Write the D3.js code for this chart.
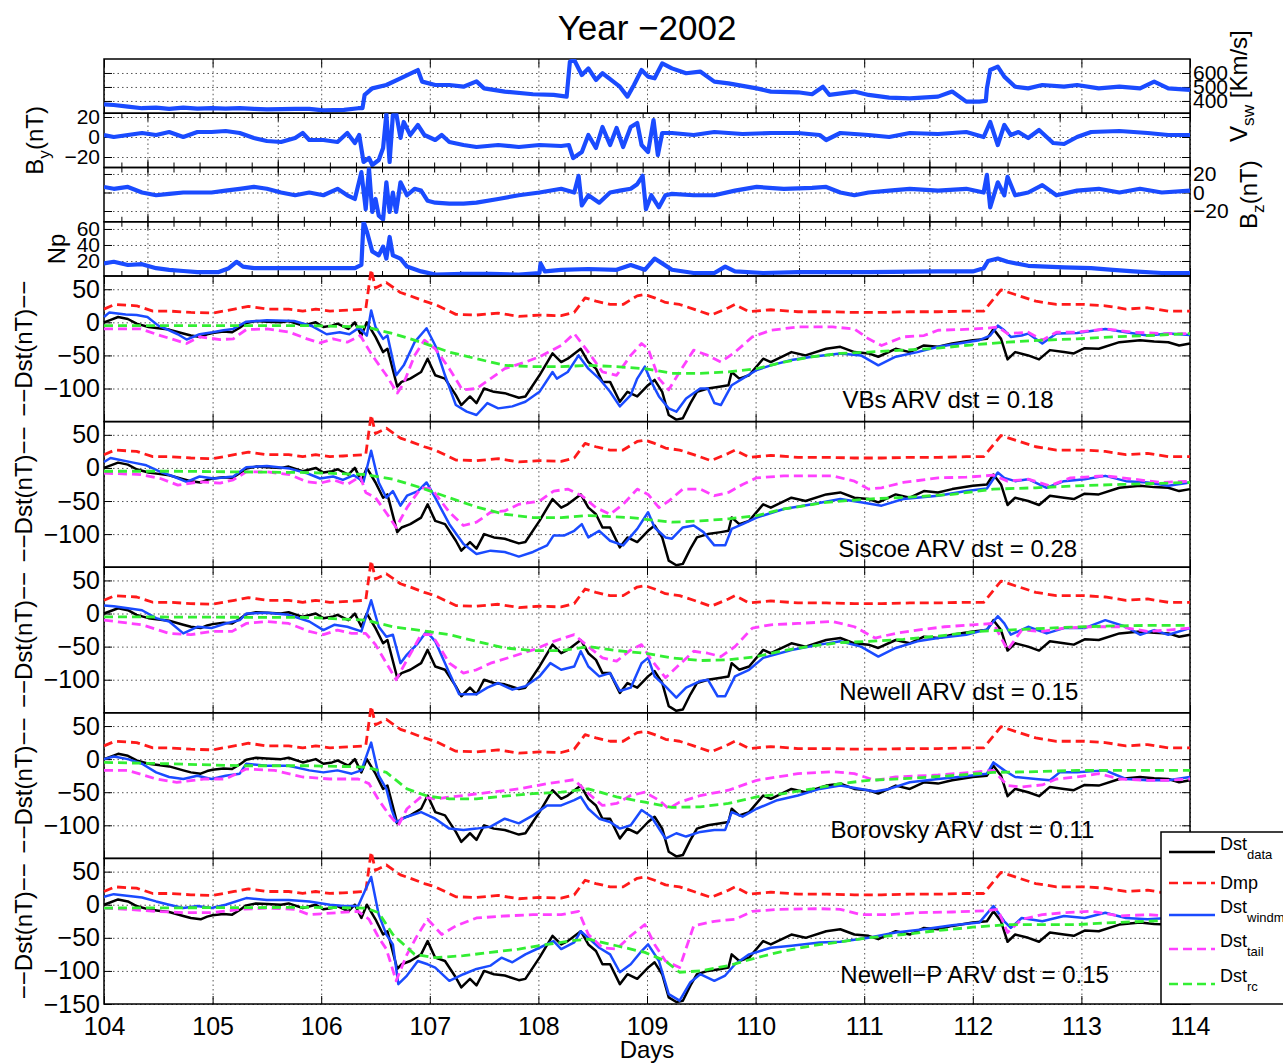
<!DOCTYPE html>
<html>
<head>
<meta charset="utf-8">
<script src="https://cdn.jsdelivr.net/npm/d3@7"></script>
<style>
	body { margin: 0; background: #fff; }
	svg { font-family: "Liberation Sans", Arial, Helvetica, sans-serif; }
	.grid line { stroke: #555; stroke-width: 1; stroke-dasharray: 1.5,3; }
	.grid path, .tk path { display: none; }
	.tk line { stroke: #000; stroke-width: 1; }
	.tk text { fill: #000; }
</style>
</head>
<body>
<div class="container"></div>
<script>
var	WIDTH = 1283,
	HEIGHT = 1063,
	LEFT = 104,
	RIGHT = 1190,
	SW_TOP = 59,
	SW_H = 54.25,
	DST_TOP = 276,
	DST_H = 145.6,
	xScale;

// axis ticks
var dayTicks = [104, 105, 106, 107, 108, 109, 110, 111, 112, 113, 114];
var swGridTicks = [104.4, 105.6, 106.8, 108.0, 109.2, 110.4, 111.6, 112.8, 114.0];
var vswTicks = [400, 500, 600];
var byTicks = [-20, 0, 20];
var bzTicks = [-20, 0, 20];
var npTicks = [20, 40, 60];
var dstTicks = [-100, -50, 0, 50];
var dstTicksLast = [-150, -100, -50, 0, 50];

// solar wind  [day, value]
var vsw = [[104.00,376],[104.09,371],[104.22,360],[104.35,348],[104.48,352],[104.60,343],[104.73,352],[104.86,345],[104.99,348],[105.12,345],[105.25,348],[105.38,343],[105.50,340],[105.63,342],[105.76,343],[105.89,343],[106.02,333],[106.21,336],[106.34,348],[106.38,348],[106.40,443],[106.47,490],[106.60,514],[106.73,562],[106.86,610],[106.89,621],[106.93,538],[107.05,514],[107.18,514],[107.31,502],[107.43,540],[107.50,490],[107.69,467],[107.95,448],[108.14,443],[108.26,431],[108.29,681],[108.33,693],[108.40,586],[108.46,633],[108.53,550],[108.59,598],[108.69,538],[108.75,502],[108.82,431],[108.88,514],[108.95,621],[109.01,574],[109.07,562],[109.14,669],[109.23,633],[109.36,598],[109.49,610],[109.62,538],[109.75,526],[110.01,490],[110.14,467],[110.39,462],[110.52,448],[110.62,502],[110.68,443],[110.91,467],[111.04,443],[111.23,424],[111.42,419],[111.68,431],[111.81,467],[111.94,395],[112.06,395],[112.12,400],[112.13,490],[112.16,621],[112.23,645],[112.29,574],[112.39,502],[112.51,490],[112.64,514],[112.84,502],[112.96,514],[113.16,490],[113.35,502],[113.54,490],[113.67,538],[113.80,490],[114.00,479]];
var by = [[104.00,2],[104.09,0],[104.22,2],[104.35,4],[104.48,2],[104.60,5],[104.73,0],[104.86,5],[104.99,5],[105.12,6],[105.25,4],[105.38,-1],[105.50,-4],[105.63,-5],[105.76,-1],[105.83,4],[105.89,-3],[106.02,-3],[106.15,-5],[106.24,4],[106.31,-6],[106.35,2],[106.39,-25],[106.44,-21],[106.47,-28],[106.53,-23],[106.57,-11],[106.60,23],[106.63,-25],[106.66,22],[106.69,24],[106.73,-1],[106.76,15],[106.82,2],[106.89,12],[106.95,2],[107.05,-3],[107.11,2],[107.18,-5],[107.31,-8],[107.43,-10],[107.63,-8],[107.82,-10],[108.01,-8],[108.21,-9],[108.28,-8],[108.32,-21],[108.40,-15],[108.46,2],[108.53,-11],[108.59,10],[108.66,-8],[108.72,9],[108.78,-10],[108.85,10],[108.91,14],[108.95,-8],[109.01,-15],[109.06,17],[109.10,-18],[109.14,4],[109.23,4],[109.43,2],[109.62,5],[109.88,3],[110.14,4],[110.39,4],[110.59,2],[110.65,-3],[110.78,4],[111.04,2],[111.23,0],[111.42,4],[111.68,3],[111.94,5],[112.10,0],[112.16,15],[112.23,-8],[112.29,12],[112.35,2],[112.42,5],[112.51,-1],[112.61,7],[112.74,-6],[112.84,-7],[112.96,0],[113.09,5],[113.35,6],[113.61,4],[113.80,2],[114.00,2]];
var bz = [[104.00,6],[104.09,4],[104.22,6],[104.35,0],[104.48,-3],[104.60,-1.5],[104.73,0],[104.86,0],[104.99,0],[105.12,2],[105.25,4],[105.38,6],[105.50,4],[105.63,0],[105.76,-3],[105.89,0],[106.02,-3],[106.15,4],[106.24,-3],[106.31,-7],[106.37,22],[106.41,-18],[106.44,26],[106.47,-21],[106.50,-7],[106.53,-25],[106.57,-29],[106.60,11],[106.63,-21],[106.66,0],[106.69,-21],[106.73,11],[106.79,-3],[106.86,4],[106.92,2],[106.98,-9],[107.05,-11],[107.18,-12],[107.31,-12],[107.43,-11],[107.63,-7],[107.82,-3],[108.01,0],[108.21,4],[108.33,0],[108.37,18],[108.40,-14],[108.46,-3],[108.56,-11],[108.66,0],[108.75,2],[108.85,4],[108.91,9],[108.96,18],[108.99,-18],[109.04,-3],[109.11,-16],[109.17,-3],[109.23,-1.5],[109.43,-3],[109.62,-3],[109.81,2],[110.01,6],[110.26,4],[110.52,5],[110.65,6],[110.78,0],[110.91,-3],[111.04,0],[111.23,2],[111.42,4],[111.68,2],[111.94,4],[112.10,0],[112.13,19],[112.16,-16],[112.23,11],[112.29,-3],[112.32,17],[112.39,-3],[112.51,0],[112.64,8],[112.77,-3],[112.96,2],[113.16,4],[113.35,0],[113.54,4],[113.74,0],[114.00,2]];
var np = [[104.00,17],[104.09,19],[104.22,15],[104.35,16],[104.48,11],[104.60,9],[104.73,7.5],[104.86,6],[105.05,6],[105.15,11],[105.22,19],[105.28,13],[105.38,11],[105.63,11],[105.89,11],[106.15,11],[106.31,11],[106.37,15],[106.39,69],[106.42,57],[106.47,32],[106.53,27],[106.57,38],[106.60,23],[106.63,50],[106.66,27],[106.73,23],[106.79,13],[106.92,7],[107.05,3],[107.31,4],[107.56,4],[107.82,3],[108.01,5],[108.02,17],[108.06,7],[108.21,9],[108.46,10],[108.72,9],[108.85,15],[108.98,9],[109.07,23],[109.14,17],[109.23,9],[109.43,5],[109.62,5],[109.72,13],[109.81,7],[110.07,5],[110.39,6],[111.04,6],[111.68,7],[112.00,7],[112.10,11],[112.14,20],[112.23,23],[112.32,19],[112.51,14],[112.84,12],[113.09,11],[113.29,9],[113.48,7],[113.74,5],[114.00,5]];

// Dst (nT)  [day, value]
var dstData = [[104.00,0],[104.05,3],[104.13,8],[104.22,5],[104.30,-2],[104.41,-7],[104.50,-9],[104.60,-11],[104.73,-17],[104.80,-20],[104.89,-22],[104.95,-18],[105.00,-16],[105.10,-14],[105.18,-15],[105.25,-8],[105.31,-1],[105.40,2],[105.50,1],[105.63,0],[105.70,2],[105.83,-5],[105.95,0],[106.02,-7],[106.10,-5],[106.15,-2],[106.25,-10],[106.31,0],[106.37,-20],[106.42,0],[106.50,-22],[106.57,-45],[106.61,-40],[106.70,-97],[106.74,-90],[106.82,-85],[106.92,-75],[106.98,-55],[107.05,-80],[107.14,-85],[107.24,-110],[107.29,-125],[107.37,-112],[107.43,-122],[107.50,-100],[107.59,-105],[107.69,-107],[107.82,-114],[107.88,-112],[108.01,-80],[108.13,-47],[108.21,-60],[108.27,-55],[108.39,-40],[108.46,-60],[108.53,-70],[108.59,-90],[108.66,-90],[108.75,-120],[108.82,-105],[108.91,-112],[109.01,-95],[109.07,-87],[109.14,-105],[109.20,-140],[109.27,-147],[109.33,-145],[109.40,-122],[109.46,-105],[109.56,-100],[109.68,-97],[109.75,-95],[109.78,-75],[109.85,-85],[109.94,-80],[110.07,-55],[110.14,-60],[110.33,-45],[110.46,-50],[110.65,-40],[110.78,-37],[110.91,-45],[111.04,-47],[111.13,-52],[111.29,-40],[111.42,-45],[111.55,-35],[111.68,-37],[111.81,-32],[112.00,-27],[112.13,-25],[112.19,-10],[112.26,-25],[112.32,-56],[112.39,-45],[112.51,-50],[112.61,-56],[112.71,-42],[112.84,-45],[112.93,-47],[113.03,-39],[113.16,-40],[113.35,-30],[113.54,-27],[113.67,-29],[113.80,-30],[113.90,-35],[114.00,-32]];
var dmp = [[104.00,20],[104.10,27],[104.30,25],[104.45,17],[104.60,17],[104.80,15],[105.00,14],[105.20,20],[105.33,24],[105.50,20],[105.70,20],[105.83,17],[105.95,20],[106.08,17],[106.20,18],[106.41,20],[106.46,80],[106.50,52],[106.60,60],[106.73,45],[106.82,40],[106.95,32],[107.05,27],[107.24,12],[107.43,11],[107.63,14],[107.82,9],[108.01,11],[108.21,10],[108.33,15],[108.43,37],[108.53,32],[108.66,27],[108.78,27],[108.91,40],[108.98,42],[109.07,37],[109.17,30],[109.30,27],[109.43,20],[109.59,11],[109.75,22],[109.81,27],[109.94,16],[110.14,19],[110.39,16],[110.65,16],[110.91,15],[111.16,15],[111.42,16],[111.68,16],[111.94,17],[112.10,17],[112.19,35],[112.26,49],[112.39,42],[112.58,32],[112.77,27],[113.03,27],[113.22,25],[113.41,20],[113.61,22],[113.80,17],[114.00,17]];

var windmiVBs = [[104.00,8],[104.05,15],[104.20,12],[104.30,11],[104.40,8],[104.50,-5],[104.60,-12],[104.68,-18],[104.76,-26],[104.88,-18],[105.00,-15],[105.10,-12],[105.19,-10],[105.31,1],[105.50,3],[105.75,2],[105.92,-6],[106.05,-18],[106.17,-15],[106.26,-18],[106.35,-8],[106.42,-20],[106.46,18],[106.50,-7],[106.57,-25],[106.61,-20],[106.69,-80],[106.76,-65],[106.86,-30],[106.97,-9],[107.05,-35],[107.14,-80],[107.24,-125],[107.34,-135],[107.43,-140],[107.53,-122],[107.63,-130],[107.76,-127],[107.88,-120],[108.01,-105],[108.13,-75],[108.17,-85],[108.27,-75],[108.37,-50],[108.46,-70],[108.56,-85],[108.66,-105],[108.75,-127],[108.85,-110],[108.91,-85],[108.98,-67],[109.04,-90],[109.11,-112],[109.20,-130],[109.27,-135],[109.36,-115],[109.49,-100],[109.56,-100],[109.62,-122],[109.68,-125],[109.78,-95],[109.88,-85],[110.01,-72],[110.14,-65],[110.33,-57],[110.52,-52],[110.78,-47],[110.97,-50],[111.13,-65],[111.29,-52],[111.49,-45],[111.68,-37],[111.87,-32],[112.06,-27],[112.16,-20],[112.23,-5],[112.29,-12],[112.35,-22],[112.45,-20],[112.51,-17],[112.64,-32],[112.77,-17],[112.96,-16],[113.22,-10],[113.41,-15],[113.61,-20],[113.80,-17],[114.00,-19]];
var windmiSiscoe = [[104.00,9],[104.06,15],[104.27,8],[104.39,4],[104.52,-6],[104.64,-13],[104.76,-21],[104.88,-13],[105.01,-16],[105.19,-13],[105.31,1],[105.50,3],[105.71,-1],[105.87,-8],[105.99,-16],[106.11,-13],[106.20,-18],[106.30,-11],[106.39,-21],[106.46,26],[106.53,-22],[106.60,-45],[106.66,-35],[106.73,-57],[106.79,-42],[106.89,-35],[106.97,-22],[107.05,-45],[107.18,-85],[107.31,-115],[107.43,-130],[107.56,-125],[107.69,-127],[107.82,-134],[107.95,-127],[108.08,-117],[108.14,-102],[108.24,-102],[108.33,-95],[108.40,-85],[108.46,-105],[108.56,-95],[108.66,-110],[108.78,-117],[108.91,-92],[109.01,-67],[109.07,-90],[109.17,-105],[109.23,-107],[109.33,-90],[109.43,-87],[109.52,-97],[109.62,-117],[109.72,-117],[109.78,-92],[109.88,-85],[110.01,-75],[110.26,-62],[110.52,-55],[110.78,-47],[110.97,-52],[111.16,-57],[111.36,-47],[111.68,-42],[111.94,-35],[112.13,-31],[112.23,-7],[112.29,-15],[112.39,-20],[112.51,-17],[112.68,-30],[112.84,-20],[113.03,-17],[113.22,-12],[113.41,-20],[113.61,-22],[113.80,-27],[114.00,-22]];
var windmiNewell = [[104.00,12],[104.09,11],[104.35,5],[104.48,-7],[104.60,-12],[104.73,-30],[104.86,-20],[104.99,-22],[105.12,-15],[105.25,-10],[105.31,0],[105.50,1],[105.70,-2],[105.89,-12],[106.02,-25],[106.12,-17],[106.24,-20],[106.37,-27],[106.46,20],[106.53,-20],[106.60,-35],[106.66,-32],[106.73,-75],[106.79,-62],[106.89,-45],[106.97,-27],[107.05,-42],[107.18,-90],[107.27,-122],[107.43,-122],[107.53,-112],[107.63,-105],[107.76,-115],[107.88,-110],[108.01,-95],[108.11,-75],[108.21,-85],[108.33,-80],[108.39,-57],[108.46,-80],[108.56,-95],[108.66,-90],[108.75,-117],[108.85,-112],[108.95,-75],[109.01,-67],[109.07,-95],[109.17,-110],[109.27,-127],[109.36,-112],[109.49,-102],[109.56,-100],[109.65,-125],[109.72,-125],[109.81,-95],[109.94,-85],[110.07,-67],[110.33,-55],[110.59,-47],[110.78,-42],[110.97,-50],[111.13,-65],[111.29,-52],[111.49,-42],[111.68,-37],[111.94,-32],[112.13,-24],[112.23,-4],[112.29,-15],[112.35,-32],[112.51,-20],[112.68,-30],[112.84,-22],[113.03,-22],[113.22,-10],[113.41,-20],[113.54,-32],[113.67,-25],[113.80,-32],[114.00,-22]];
var windmiBorovsky = [[104.00,0],[104.09,4],[104.22,0],[104.35,-7],[104.48,-20],[104.60,-27],[104.73,-30],[104.86,-25],[104.99,-30],[105.12,-25],[105.25,-22],[105.31,-7],[105.50,-10],[105.70,-10],[105.89,-17],[106.02,-20],[106.15,-17],[106.28,-22],[106.37,-17],[106.46,25],[106.53,-25],[106.60,-45],[106.65,-77],[106.69,-95],[106.79,-87],[106.92,-80],[107.05,-90],[107.18,-105],[107.31,-107],[107.43,-105],[107.56,-102],[107.69,-90],[107.82,-97],[107.95,-85],[108.08,-70],[108.21,-70],[108.33,-62],[108.39,-57],[108.46,-75],[108.56,-90],[108.66,-95],[108.75,-105],[108.85,-100],[108.95,-77],[109.04,-87],[109.17,-120],[109.27,-112],[109.36,-117],[109.49,-110],[109.62,-107],[109.72,-107],[109.78,-80],[109.88,-87],[110.01,-75],[110.20,-62],[110.39,-55],[110.59,-45],[110.78,-40],[110.97,-45],[111.10,-49],[111.23,-45],[111.42,-35],[111.68,-30],[111.87,-27],[112.13,-22],[112.19,-5],[112.29,-17],[112.39,-27],[112.58,-30],[112.71,-32],[112.80,-20],[112.96,-20],[113.22,-17],[113.41,-30],[113.61,-32],[113.80,-32],[114.00,-27]];
var windmiNewellP = [[104.00,12],[104.09,16],[104.35,11],[104.48,5],[104.60,0],[104.73,-5],[104.86,-2],[104.99,-5],[105.12,0],[105.31,10],[105.50,7],[105.70,7],[105.89,5],[106.08,0],[106.21,-2],[106.34,-2],[106.46,42],[106.53,-15],[106.60,-45],[106.66,-60],[106.71,-120],[106.79,-107],[106.89,-85],[106.98,-90],[107.05,-95],[107.18,-115],[107.31,-105],[107.43,-97],[107.56,-92],[107.66,-80],[107.76,-87],[107.88,-75],[108.01,-65],[108.14,-55],[108.21,-67],[108.33,-57],[108.39,-40],[108.46,-50],[108.56,-65],[108.66,-75],[108.75,-102],[108.85,-90],[108.95,-70],[109.01,-60],[109.11,-85],[109.20,-135],[109.30,-145],[109.40,-117],[109.49,-105],[109.62,-115],[109.72,-107],[109.81,-90],[109.94,-75],[110.14,-65],[110.33,-62],[110.59,-57],[110.78,-56],[111.04,-50],[111.29,-42],[111.55,-37],[111.81,-31],[112.06,-27],[112.19,-2],[112.29,-25],[112.35,-35],[112.45,-20],[112.64,-25],[112.84,-17],[113.03,-20],[113.22,-12],[113.41,-20],[113.61,-22],[113.80,-20],[114.00,-20]];

var tailVBs = [[104.00,-10],[104.34,-10],[104.52,-20],[104.76,-32],[104.88,-22],[105.07,-26],[105.19,-25],[105.31,-11],[105.50,-10],[105.71,-15],[105.87,-25],[105.99,-31],[106.11,-25],[106.24,-30],[106.36,-20],[106.47,-50],[106.60,-80],[106.70,-107],[106.76,-92],[106.86,-50],[106.95,-27],[107.05,-40],[107.18,-70],[107.30,-102],[107.43,-100],[107.56,-85],[107.69,-70],[107.88,-60],[108.01,-52],[108.21,-35],[108.33,-17],[108.46,-45],[108.59,-75],[108.72,-80],[108.85,-50],[108.95,-32],[109.01,-40],[109.11,-85],[109.20,-102],[109.30,-75],[109.43,-42],[109.56,-50],[109.68,-60],[109.81,-45],[109.97,-22],[110.14,-12],[110.39,-7],[110.71,-7],[110.91,-10],[111.04,-25],[111.16,-35],[111.36,-22],[111.55,-20],[111.68,-12],[111.87,-11],[112.13,-9],[112.23,-7],[112.32,-17],[112.51,-15],[112.64,-27],[112.77,-15],[112.96,-15],[113.22,-10],[113.48,-15],[113.74,-17],[114.00,-17]];
var tailSiscoe = [[104.00,-8],[104.34,-10],[104.52,-16],[104.68,-26],[104.88,-21],[105.07,-23],[105.19,-18],[105.31,-6],[105.50,-6],[105.71,-10],[105.87,-21],[105.99,-23],[106.11,-18],[106.24,-25],[106.36,-13],[106.41,-37],[106.50,-45],[106.63,-75],[106.69,-90],[106.79,-60],[106.92,-30],[107.02,-32],[107.18,-67],[107.31,-87],[107.43,-82],[107.56,-67],[107.69,-65],[107.82,-55],[108.01,-50],[108.14,-35],[108.27,-32],[108.40,-42],[108.53,-60],[108.66,-70],[108.78,-55],[108.91,-32],[109.01,-40],[109.11,-60],[109.20,-50],[109.33,-32],[109.49,-32],[109.62,-42],[109.75,-37],[109.88,-25],[110.01,-15],[110.26,-12],[110.71,-12],[110.91,-20],[111.04,-32],[111.16,-30],[111.36,-22],[111.68,-15],[111.94,-14],[112.19,-11],[112.32,-20],[112.51,-17],[112.71,-27],[112.90,-15],[113.22,-12],[113.48,-17],[113.74,-22],[114.00,-20]];
var tailNewell = [[104.00,-10],[104.35,-17],[104.60,-30],[104.80,-32],[104.99,-27],[105.18,-27],[105.31,-15],[105.50,-12],[105.70,-15],[105.89,-27],[106.02,-32],[106.15,-25],[106.28,-30],[106.41,-30],[106.50,-47],[106.60,-75],[106.69,-100],[106.79,-70],[106.92,-32],[107.02,-32],[107.18,-75],[107.31,-90],[107.43,-85],[107.56,-75],[107.76,-65],[107.95,-55],[108.14,-42],[108.33,-32],[108.46,-50],[108.59,-67],[108.72,-72],[108.85,-55],[108.95,-47],[109.04,-70],[109.17,-97],[109.30,-77],[109.43,-57],[109.56,-60],[109.68,-65],[109.81,-50],[109.97,-22],[110.14,-17],[110.39,-15],[110.71,-12],[110.91,-20],[111.10,-37],[111.29,-30],[111.49,-25],[111.74,-20],[112.00,-17],[112.19,-15],[112.32,-55],[112.45,-25],[112.64,-27],[112.84,-22],[113.09,-20],[113.35,-20],[113.61,-27],[113.80,-25],[114.00,-22]];
var tailBorovsky = [[104.00,-17],[104.22,-17],[104.48,-30],[104.67,-35],[104.93,-30],[105.12,-30],[105.31,-15],[105.57,-17],[105.83,-27],[106.08,-30],[106.34,-30],[106.44,-37],[106.53,-62],[106.63,-85],[106.71,-100],[106.79,-75],[106.92,-57],[107.05,-60],[107.31,-55],[107.56,-50],[107.82,-45],[108.08,-37],[108.33,-31],[108.46,-52],[108.59,-70],[108.72,-67],[108.85,-55],[108.98,-50],[109.11,-62],[109.20,-75],[109.30,-65],[109.49,-55],[109.75,-47],[110.01,-32],[110.39,-22],[110.71,-19],[110.91,-22],[111.10,-32],[111.29,-27],[111.68,-24],[112.00,-20],[112.19,-17],[112.32,-40],[112.45,-42],[112.64,-39],[112.77,-30],[112.96,-27],[113.16,-22],[113.35,-30],[113.61,-32],[113.80,-32],[114.00,-30]];
var tailNewellP = [[104.00,-5],[104.22,-7],[104.48,-10],[104.73,-12],[104.99,-12],[105.25,-7],[105.50,-5],[105.76,-7],[105.89,-15],[106.15,-12],[106.34,-10],[106.44,-22],[106.53,-50],[106.60,-67],[106.69,-115],[106.79,-75],[106.89,-45],[106.98,-22],[107.11,-45],[107.24,-32],[107.43,-20],[107.69,-17],[107.95,-15],[108.21,-15],[108.37,-10],[108.46,-45],[108.59,-65],[108.72,-67],[108.85,-47],[108.98,-30],[109.07,-60],[109.17,-85],[109.30,-95],[109.43,-32],[109.62,-25],[109.81,-22],[109.97,-10],[110.20,-7],[110.59,-6],[110.78,-7],[110.97,-15],[111.23,-15],[111.49,-12],[111.81,-11],[112.13,-9],[112.23,-7],[112.32,-42],[112.45,-22],[112.64,-15],[112.84,-12],[113.09,-10],[113.35,-17],[113.61,-15],[113.80,-17],[114.00,-17]];

var rcVBs = [[104.00,-5],[104.64,-5],[105.25,-5],[105.89,-5],[106.41,-7],[106.66,-17],[106.92,-30],[107.18,-45],[107.43,-55],[107.69,-65],[107.95,-67],[108.21,-67],[108.46,-65],[108.72,-67],[108.98,-70],[109.23,-77],[109.49,-77],[109.75,-75],[110.01,-70],[110.26,-60],[110.52,-52],[110.78,-47],[111.04,-45],[111.36,-42],[111.68,-39],[112.00,-34],[112.32,-30],[112.64,-27],[112.96,-25],[113.29,-22],[113.61,-20],[114.00,-17]];
var rcSiscoe = [[104.00,-5],[104.64,-5],[105.25,-6],[105.89,-7],[106.41,-10],[106.66,-17],[106.92,-30],[107.18,-45],[107.43,-59],[107.69,-70],[107.95,-75],[108.21,-75],[108.46,-72],[108.85,-75],[109.23,-82],[109.49,-80],[109.75,-77],[110.01,-72],[110.26,-62],[110.65,-52],[111.04,-47],[111.42,-44],[111.81,-40],[112.19,-32],[112.58,-30],[112.96,-27],[113.35,-25],[114.00,-22]];
var rcNewell = [[104.00,-5],[105.89,-6],[106.41,-10],[106.66,-20],[106.98,-27],[107.18,-32],[107.43,-42],[107.69,-52],[107.95,-56],[108.21,-56],[108.46,-50],[108.72,-56],[108.98,-60],[109.23,-67],[109.49,-71],[109.75,-70],[110.01,-65],[110.26,-56],[110.52,-49],[110.78,-44],[111.04,-42],[111.36,-39],[111.68,-34],[112.06,-27],[112.45,-24],[112.84,-21],[113.22,-19],[113.61,-18],[114.00,-18]];
var rcBorovsky = [[104.00,-5],[104.60,-7],[105.25,-10],[105.89,-10],[106.41,-12],[106.60,-20],[106.79,-45],[106.98,-56],[107.18,-60],[107.43,-60],[107.69,-56],[107.95,-52],[108.21,-50],[108.46,-45],[108.72,-57],[108.98,-65],[109.23,-73],[109.49,-72],[109.75,-67],[110.01,-57],[110.26,-52],[110.52,-45],[110.78,-37],[111.04,-32],[111.42,-29],[111.81,-25],[112.19,-20],[112.58,-19],[112.96,-17],[114.00,-17]];
var rcNewellP = [[104.00,-5],[105.89,-4],[106.41,-5],[106.53,-12],[106.66,-45],[106.86,-75],[107.05,-80],[107.31,-77],[107.56,-72],[107.82,-67],[108.08,-60],[108.33,-54],[108.46,-52],[108.72,-62],[108.98,-72],[109.17,-85],[109.30,-102],[109.49,-100],[109.75,-92],[110.01,-80],[110.26,-70],[110.52,-62],[110.78,-56],[111.04,-50],[111.36,-45],[111.68,-39],[112.00,-34],[112.32,-30],[112.96,-30],[113.29,-27],[113.61,-25],[114.00,-22]];

var modelNames = ['VBs', 'Siscoe', 'Newell', 'Borovsky', 'Newell\u2212P'];
var arvValues = [0.18, 0.28, 0.15, 0.11, 0.15];
// where each ARV note sits, in axis units
var noteDay = [110.80, 110.76, 110.77, 110.69, 110.78];
var noteDst = [-129, -134, -131, -119, -118];

var COLORS = { data: '#000000', dmp: '#ff1a1a', windmi: '#1a4bff', tail: '#ff40ff', rc: '#33ee33' };
var DASH = '9,5';

function translate(x, y) {
	return 'translate(' + x + ',' + y + ')';
}

function styleTicks(sel, size) {
	sel.attr('font-family', null).attr('font-size', size);
}

function drawFrame(g, h, y, o) {
	g.append('g').attr('class', 'grid')
		.attr('transform', translate(0, h))
		.call(d3.axisBottom(xScale).tickValues(o.xMajor).tickSize(-h).tickFormat(''));
	g.append('g').attr('class', 'grid')
		.attr('transform', translate(LEFT, 0))
		.call(d3.axisLeft(y).tickValues(o.yTicks).tickSize(-(RIGHT - LEFT)).tickFormat(''));

	g.append('g').attr('class', 'tk')
		.attr('transform', translate(0, h))
		.call(d3.axisBottom(xScale).tickValues(o.xMajor).tickSize(-8).tickPadding(13)
			.tickFormat(o.xLabels ? d3.format('d') : ''))
		.call(styleTicks, 25);
	g.append('g').attr('class', 'tk')
		.call(d3.axisTop(xScale).tickValues(o.xMajor).tickSize(-8).tickFormat(''));
	if (o.xMinor) {
		g.append('g').attr('class', 'tk')
			.attr('transform', translate(0, h))
			.call(d3.axisBottom(xScale).tickValues(o.xMinor).tickSize(-5).tickFormat(''));
		g.append('g').attr('class', 'tk')
			.call(d3.axisTop(xScale).tickValues(o.xMinor).tickSize(-5).tickFormat(''));
	}

	var fmt = d3.format('d');
	g.append('g').attr('class', 'tk')
		.attr('transform', translate(LEFT, 0))
		.call(d3.axisLeft(y).tickValues(o.yTicks).tickSize(-8).tickPadding(4)
			.tickFormat(o.side == 'left' ? fmt : ''))
		.call(styleTicks, o.fontSize);
	g.append('g').attr('class', 'tk')
		.attr('transform', translate(RIGHT, 0))
		.call(d3.axisRight(y).tickValues(o.yTicks).tickSize(-8).tickPadding(3)
			.tickFormat(o.side == 'right' ? fmt : ''))
		.call(styleTicks, o.fontSize);

	g.append('rect')
		.attr('x', LEFT).attr('y', 0)
		.attr('width', RIGHT - LEFT).attr('height', h)
		.attr('fill', 'none').attr('stroke', '#000').attr('stroke-width', 1.5);
}

function sideLabel(svg, x, cy, parts, size) {
	var t = svg.append('text')
		.attr('transform', translate(x, cy) + ' rotate(-90)')
		.attr('text-anchor', 'middle')
		.attr('font-size', size);
	var shift = 0;
	parts.forEach(function(p) {
		var dy = p.sub ? 7 - shift : -shift;
		shift = p.sub ? 7 : 0;
		t.append('tspan').attr('dy', dy).attr('font-size', p.sub ? size * 0.72 : size).text(p.t);
	});
}

function drawSolarWind(svg) {
	var minor = d3.range(104.16, 114.001, 0.24);
	var panels = [
		{ data: vsw, domain: [312, 700], ticks: vswTicks, side: 'right', xMajor: dayTicks, xMinor: null },
		{ data: by, domain: [-30.5, 23.75], ticks: byTicks, side: 'left', xMajor: swGridTicks, xMinor: minor },
		{ data: bz, domain: [-31.6, 27], ticks: bzTicks, side: 'right', xMajor: swGridTicks, xMinor: minor },
		{ data: np, domain: [1.25, 69], ticks: npTicks, side: 'left', xMajor: swGridTicks, xMinor: minor }
	];

	panels.forEach(function(p, i) {
		var top = SW_TOP + i * SW_H;
		var g = svg.append('g').attr('transform', translate(0, top));
		var y = d3.scaleLinear().domain(p.domain).range([SW_H, 0]);

		g.append('clipPath').attr('id', 'sw' + i)
			.append('rect').attr('x', LEFT).attr('y', 0).attr('width', RIGHT - LEFT).attr('height', SW_H);

		drawFrame(g, SW_H, y, { xMajor: p.xMajor, xMinor: p.xMinor, yTicks: p.ticks, side: p.side, fontSize: 21 });

		var line = d3.line()
			.x(function(d) {return xScale(d[0])})
			.y(function(d) {return y(d[1])});

		g.append('path')
			.datum(p.data)
			.attr('clip-path', 'url(#sw' + i + ')')
			.attr('d', line)
			.attr('fill', 'none')
			.attr('stroke', COLORS.windmi)
			.attr('stroke-width', 4.2)
			.attr('stroke-linejoin', 'round');
	});

	sideLabel(svg, 1247, SW_TOP + SW_H * 0.5, [{t: 'V'}, {t: 'sw', sub: true}, {t: ' [Km/s]'}], 24);
	sideLabel(svg, 43, SW_TOP + SW_H * 1.5, [{t: 'B'}, {t: 'y', sub: true}, {t: '(nT)'}], 24);
	sideLabel(svg, 1257, SW_TOP + SW_H * 2.5, [{t: 'B'}, {t: 'z', sub: true}, {t: '(nT)'}], 24);
	sideLabel(svg, 65, SW_TOP + SW_H * 3.5, [{t: 'Np'}], 24);
}

function drawDst(svg) {
	var windmi = [windmiVBs, windmiSiscoe, windmiNewell, windmiBorovsky, windmiNewellP];
	var tail = [tailVBs, tailSiscoe, tailNewell, tailBorovsky, tailNewellP];
	var rc = [rcVBs, rcSiscoe, rcNewell, rcBorovsky, rcNewellP];

	modelNames.forEach(function(name, i) {
		var top = DST_TOP + i * DST_H;
		var last = i == modelNames.length - 1;
		var g = svg.append('g').attr('transform', translate(0, top));
		var y = d3.scaleLinear().domain([-150, 70]).range([DST_H, 0]);

		drawFrame(g, DST_H, y, {
			xMajor: dayTicks, xMinor: null, xLabels: last,
			yTicks: last ? dstTicksLast : dstTicks, side: 'left', fontSize: 25
		});

		var line = d3.line()
			.x(function(d) {return xScale(d[0])})
			.y(function(d) {return y(d[1])});

		var series = [
			{ data: dstData, color: COLORS.data, dash: null },
			{ data: dmp, color: COLORS.dmp, dash: DASH },
			{ data: windmi[i], color: COLORS.windmi, dash: null },
			{ data: tail[i], color: COLORS.tail, dash: DASH },
			{ data: rc[i], color: COLORS.rc, dash: DASH }
		];
		series.forEach(function(s) {
			g.append('path')
				.datum(s.data)
				.attr('d', line)
				.attr('fill', 'none')
				.attr('stroke', s.color)
				.attr('stroke-width', s.dash ? 2.8 : 2.5)
				.attr('stroke-dasharray', s.dash)
				.attr('stroke-linejoin', 'round');
		});

		g.append('text')
			.attr('x', xScale(noteDay[i]))
			.attr('y', y(noteDst[i]))
			.attr('font-size', 24)
			.text(name + ' ARV dst = ' + arvValues[i].toFixed(2));

		sideLabel(svg, 32, top + DST_H / 2, [{t: '\u2212\u2212Dst(nT)\u2212\u2212'}], 24);
	});
}

function drawLegend(svg) {
	var entries = [
		{ main: 'Dst', sub: 'data', color: COLORS.data, dash: null },
		{ main: 'Dmp', sub: null, color: COLORS.dmp, dash: DASH },
		{ main: 'Dst', sub: 'windmi', color: COLORS.windmi, dash: null },
		{ main: 'Dst', sub: 'tail', color: COLORS.tail, dash: DASH },
		{ main: 'Dst', sub: 'rc', color: COLORS.rc, dash: DASH }
	];
	var rowY = [852, 883, 915, 949, 984];
	var lg = svg.append('g');
	lg.append('rect')
		.attr('x', 1161).attr('y', 832).attr('width', 140).attr('height', 172)
		.attr('fill', '#fff').attr('stroke', '#000').attr('stroke-width', 1.5);

	entries.forEach(function(e, i) {
		var yy = rowY[i];
		lg.append('line')
			.attr('x1', 1169).attr('x2', 1215).attr('y1', yy).attr('y2', yy)
			.attr('stroke', e.color).attr('stroke-width', 2.5)
			.attr('stroke-dasharray', e.dash);
		var t = lg.append('text')
			.attr('x', 1220)
			.attr('y', e.sub ? yy - 2 : yy + 6)
			.attr('font-size', 18);
		t.append('tspan').text(e.main);
		if (e.sub) t.append('tspan').attr('dy', 9).attr('font-size', 13).text(e.sub);
	});
}

window.onload = function() {
	var svg = d3.select('.container').append('svg')
		.attr('width', WIDTH)
		.attr('height', HEIGHT);

	svg.append('rect').attr('width', WIDTH).attr('height', HEIGHT).attr('fill', '#fff');

	xScale = d3.scaleLinear()
		.domain([104, 114])
		.range([LEFT, RIGHT]);

	svg.append('text')
		.attr('x', (LEFT + RIGHT) / 2).attr('y', 40)
		.attr('text-anchor', 'middle')
		.attr('font-size', 35)
		.text('Year \u22122002');

	drawSolarWind(svg);
	drawDst(svg);

	svg.append('text')
		.attr('x', (LEFT + RIGHT) / 2).attr('y', 1058)
		.attr('text-anchor', 'middle')
		.attr('font-size', 24)
		.text('Days');

	drawLegend(svg);
}
</script>
</body>
</html>
